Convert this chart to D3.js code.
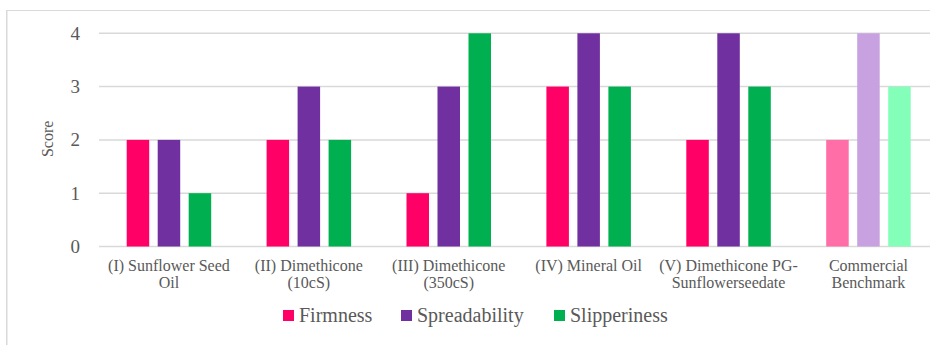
<!DOCTYPE html>
<html>
<head>
<meta charset="utf-8">
<script src="https://cdn.jsdelivr.net/npm/d3@7"></script>
<style>
  html, body { margin: 0; padding: 0; background: #fff; }
  svg { display: block; }
</style>
</head>
<body>
<div id="chart"></div>
<script>
// Sensory scores per formulation
const categories = [
  "(I) Sunflower Seed Oil",
  "(II) Dimethicone (10cS)",
  "(III) Dimethicone (350cS)",
  "(IV) Mineral Oil",
  "(V) Dimethicone PG-Sunflowerseedate",
  "Commercial Benchmark"
];
// Axis tick labels for each category, split over lines
const categoryLabels = [
  ["(I) Sunflower Seed", "Oil"],
  ["(II) Dimethicone", "(10cS)"],
  ["(III) Dimethicone", "(350cS)"],
  ["(IV) Mineral Oil"],
  ["(V) Dimethicone PG-", "Sunflowerseedate"],
  ["Commercial", "Benchmark"]
];
const seriesNames = ["Firmness", "Spreadability", "Slipperiness"];
const firmness      = [2, 2, 1, 3, 2, 2];
const spreadability = [2, 3, 3, 4, 4, 4];
const slipperiness  = [1, 2, 4, 3, 3, 3];
const yTicks = [0, 1, 2, 3, 4];

// Colours: regular series, and a lighter tint used for the benchmark
const seriesColors = ["#FF0066", "#7030A0", "#00B050"];
const benchmarkColors = ["#FF6EA6", "#C8A2E0", "#84FFB9"];

const FONT = "'Liberation Serif', 'Times New Roman', Times, serif";
const TEXT_COLOR = "#595959";

const W = 930, H = 345;
const svg = d3.select("#chart").append("svg").attr("width", W).attr("height", H);

// Chart frame
svg.append("line").attr("x1", 6.75).attr("x2", 6.75).attr("y1", 10).attr("y2", H)
  .attr("stroke", "#d9d9d9").attr("stroke-width", 1.5);
svg.append("line").attr("x1", 6).attr("x2", W).attr("y1", 10.5).attr("y2", 10.5)
  .attr("stroke", "#d9d9d9").attr("stroke-width", 1);

const plotLeft = 99, step = 139.9;
const x = d3.scaleBand().domain(categories)
  .range([plotLeft, plotLeft + step * categories.length]).padding(0);
const xInner = d3.scaleBand().domain(seriesNames)
  .range([27.7, step - 27.7]).paddingInner(0.274).paddingOuter(0);
const y = d3.scaleLinear().domain([0, 4]).range([246.5, 33.3]);

// Horizontal gridlines
svg.append("g").selectAll("line").data(yTicks).join("line")
  .attr("x1", plotLeft).attr("x2", W + 20)
  .attr("y1", d => y(d)).attr("y2", d => y(d))
  .attr("stroke", "#d9d9d9").attr("stroke-width", 1.5);

// Y axis tick labels
const yAxis = d3.axisLeft(y).tickValues(yTicks).tickSize(0).tickPadding(0).tickFormat(d3.format("d"));
const yg = svg.append("g").attr("transform", `translate(80,0)`).call(yAxis);
yg.select(".domain").remove();
yg.selectAll("text")
  .style("font-family", FONT).style("font-size", "19px").style("fill", TEXT_COLOR);

// Y axis title
svg.append("text")
  .attr("transform", `translate(53,${y(2) - 1}) rotate(-90)`)
  .attr("text-anchor", "middle")
  .style("font-family", FONT).style("font-size", "16px").style("fill", TEXT_COLOR)
  .text("Score");

// Bars
const table = categories.map((c, i) => ({
  category: c,
  values: [firmness[i], spreadability[i], slipperiness[i]],
  colors: c === "Commercial Benchmark" ? benchmarkColors : seriesColors
}));

const groups = svg.append("g").selectAll("g").data(table).join("g")
  .attr("transform", d => `translate(${x(d.category)},0)`);
groups.selectAll("rect")
  .data(d => d.values.map((v, k) => ({ name: seriesNames[k], value: v, color: d.colors[k] })))
  .join("rect")
  .attr("x", d => xInner(d.name))
  .attr("width", xInner.bandwidth())
  .attr("y", d => y(d.value))
  .attr("height", d => y(0) - y(d.value))
  .attr("fill", d => d.color);

// Category labels
const labelG = svg.append("g").selectAll("text").data(categories).join("text")
  .attr("text-anchor", "middle")
  .style("font-family", FONT).style("font-size", "16px").style("fill", TEXT_COLOR)
  .attr("x", d => x(d) + x.bandwidth() / 2).attr("y", 271);
labelG.selectAll("tspan").data((d, i) => categoryLabels[i]).join("tspan")
  .attr("x", function () { return d3.select(this.parentNode).attr("x"); })
  .attr("dy", (d, j) => j === 0 ? 0 : 17)
  .text(d => d);

// Legend
const legendX = [283, 401, 554];
const legend = svg.append("g").selectAll("g").data(seriesNames).join("g")
  .attr("transform", (d, i) => `translate(${legendX[i]},310)`);
legend.append("rect").attr("width", 11).attr("height", 11)
  .attr("fill", (d, i) => seriesColors[i]);
legend.append("text").attr("x", 16).attr("y", 12)
  .style("font-family", FONT).style("font-size", "20px").style("fill", TEXT_COLOR)
  .text(d => d);
</script>
</body>
</html>
